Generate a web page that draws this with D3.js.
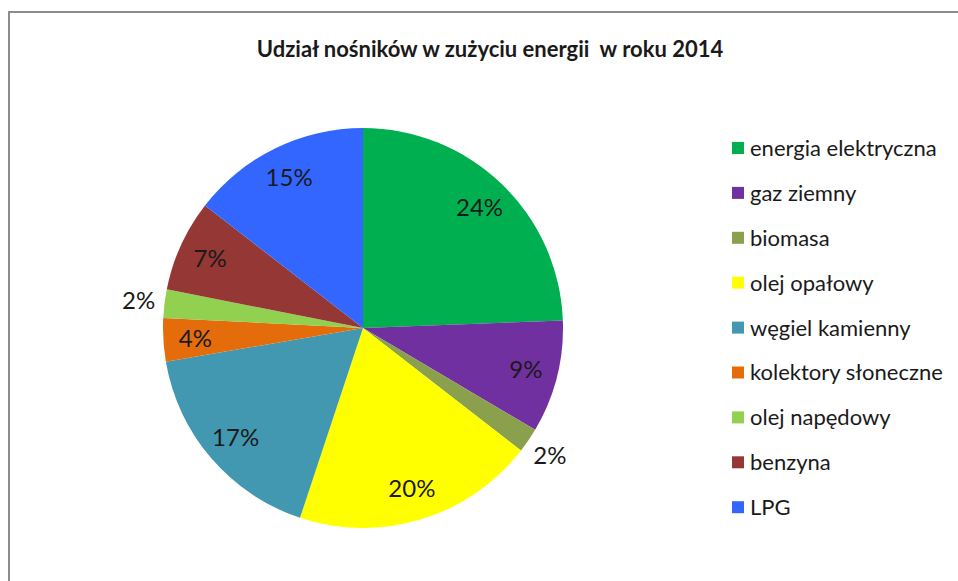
<!DOCTYPE html>
<html>
<head>
<meta charset="utf-8">
<script src="https://cdn.jsdelivr.net/npm/d3@7"></script>
<style>
  body { margin: 0; background: #fff; }
  svg text { font-family: Lato, "Open Sans", sans-serif; fill: #1a1a1a; }
</style>
</head>
<body>
<div id="chart"></div>
<script>
var categories = ['energia elektryczna', 'gaz ziemny', 'biomasa', 'olej opałowy',
                  'węgiel kamienny', 'kolektory słoneczne', 'olej napędowy', 'benzyna', 'LPG'];
var shares = [24.4, 9.1, 2.0, 19.6, 17.2, 3.5, 2.3, 7.4, 14.5];
var shareLabels = ['24%', '9%', '2%', '20%', '17%', '4%', '2%', '7%', '15%'];
var colors = ['#00b050', '#7030a0', '#8aa04c', '#ffff00', '#4298b0',
              '#e46c0a', '#92d050', '#953735', '#3366ff'];
var outside = [false, false, true, false, false, false, true, false, false];
var title = 'Udział nośników w zużyciu energii\u00a0 w roku 2014';

var width = 958, height = 581;
var cx = 363, cy = 328, radius = 200;

var svg = d3.select('#chart').append('svg')
    .attr('width', width)
    .attr('height', height);

svg.append('rect')
    .attr('width', width).attr('height', height)
    .attr('fill', '#fff');

// frame (runs off the right and bottom edges)
svg.append('path')
    .attr('d', 'M9,' + (height + 5) + 'V12H' + (width + 5))
    .attr('fill', 'none')
    .attr('stroke', '#8c8c8c')
    .attr('stroke-width', 2);

svg.append('text')
    .attr('x', 490)
    .attr('y', 57)
    .attr('text-anchor', 'middle')
    .style('font-weight', 'bold')
    .style('font-size', '22px')
    .text(title);

var pie = d3.pie().sort(null);
var arcs = pie(shares);
var arc = d3.arc().innerRadius(0).outerRadius(radius);
var labelArc = d3.arc().innerRadius(168).outerRadius(168);
var outerArc = d3.arc().innerRadius(226).outerRadius(226);

var g = svg.append('g')
    .attr('transform', 'translate(' + cx + ',' + cy + ')');

g.selectAll('path.slice')
    .data(arcs)
    .enter().append('path')
    .attr('class', 'slice')
    .attr('d', arc)
    .attr('fill', function(d, i) { return colors[i]; });

g.selectAll('text.label')
    .data(arcs)
    .enter().append('text')
    .attr('class', 'label')
    .attr('transform', function(d, i) {
        var p = (outside[i] ? outerArc : labelArc).centroid(d);
        return 'translate(' + p[0] + ',' + p[1] + ')';
    })
    .attr('dy', '0.36em')
    .attr('text-anchor', 'middle')
    .style('font-size', '24px')
    .text(function(d, i) { return shareLabels[i]; });

// legend
var legend = svg.append('g')
    .attr('transform', 'translate(732,148)');

var item = legend.selectAll('g')
    .data(categories)
    .enter().append('g')
    .attr('transform', function(d, i) { return 'translate(0,' + (i * 44.9) + ')'; });

item.append('rect')
    .attr('x', 0).attr('y', -6)
    .attr('width', 12).attr('height', 12)
    .attr('fill', function(d, i) { return colors[i]; });

item.append('text')
    .attr('x', 18)
    .attr('dy', '0.36em')
    .style('font-size', '22px')
    .text(function(d) { return d; });
</script>
</body>
</html>
